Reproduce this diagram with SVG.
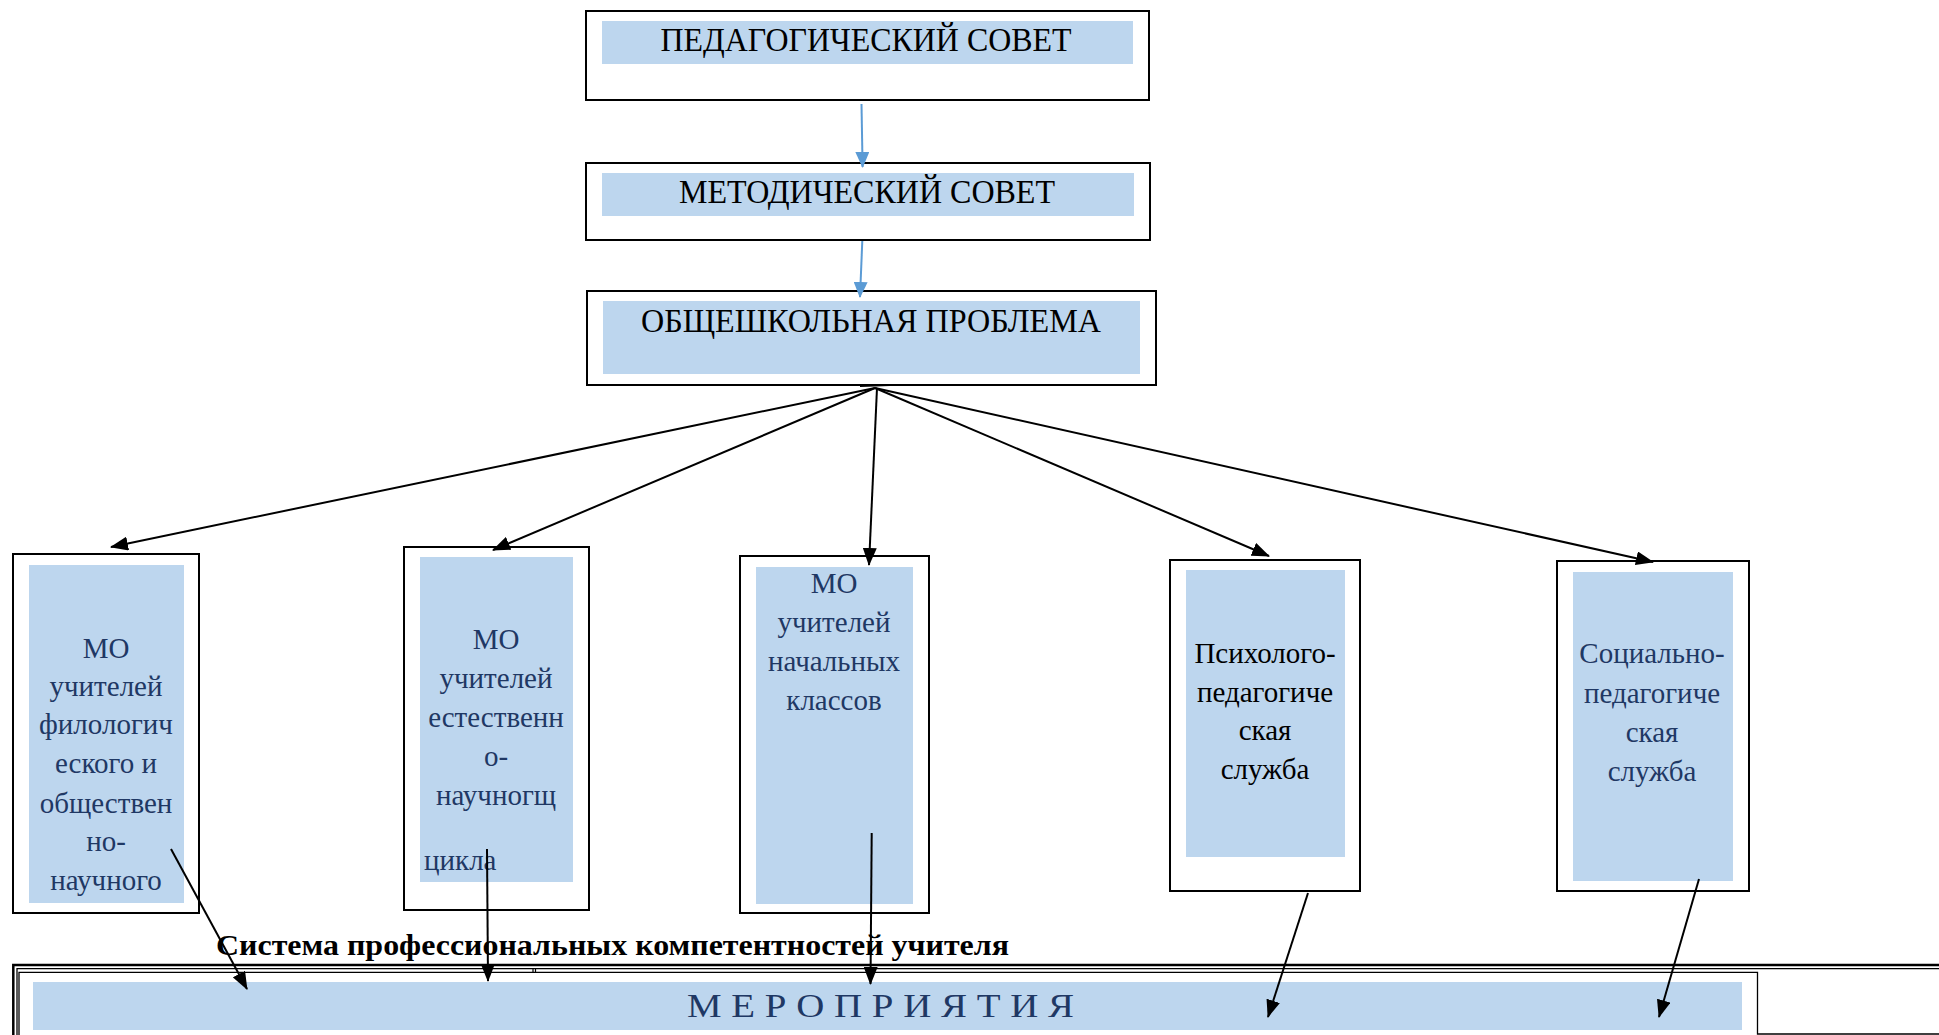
<svg xmlns="http://www.w3.org/2000/svg" width="1939" height="1035" viewBox="0 0 1939 1035">
<style>
.frame{fill:#fff;stroke:#000;stroke-width:2}
.band{fill:#bdd6ee}
.t{font-family:"Liberation Serif","Times New Roman",serif}
.title{font-size:33px;fill:#000;text-anchor:middle}
.mo{font-size:29px;fill:#1f3864;text-anchor:middle}
.blk{fill:#000}
.con{stroke:#000;stroke-width:2;fill:none}
.bcon{stroke:#5b9bd5;stroke-width:2;fill:none}
.ln{fill:none;stroke:#000}
</style>
<defs>
<marker id="ah" markerUnits="userSpaceOnUse" markerWidth="18" markerHeight="14" refX="17" refY="7" orient="auto"><path d="M0,0 L18,7 L0,14 z" fill="#000"/></marker>
<marker id="bh" markerUnits="userSpaceOnUse" markerWidth="16" markerHeight="14" refX="15" refY="7" orient="auto"><path d="M0,0 L16,7 L0,14 z" fill="#5b9bd5"/></marker>
</defs>

<g id="ped-sovet">
<rect class="frame" x="586" y="11" width="563" height="89"/>
<rect class="band" x="602" y="21" width="531" height="43"/>
<text class="t title" x="866" y="51" textLength="411" lengthAdjust="spacingAndGlyphs">ПЕДАГОГИЧЕСКИЙ СОВЕТ</text>
</g>

<g id="met-sovet">
<rect class="frame" x="586" y="163" width="564" height="77"/>
<rect class="band" x="602" y="173" width="532" height="43"/>
<text class="t title" x="867" y="203" textLength="376" lengthAdjust="spacingAndGlyphs">МЕТОДИЧЕСКИЙ СОВЕТ</text>
</g>

<g id="problem">
<rect class="frame" x="587" y="291" width="569" height="94"/>
<rect class="band" x="603" y="301" width="537" height="73"/>
<text class="t title" x="871" y="332" textLength="460" lengthAdjust="spacingAndGlyphs">ОБЩЕШКОЛЬНАЯ ПРОБЛЕМА</text>
</g>

<g id="mo-filolog">
<rect class="frame" x="13" y="554" width="186" height="359"/>
<rect class="band" x="29" y="565" width="155" height="338"/>
<text class="t mo" x="106" y="658">МО</text>
<text class="t mo" x="106" y="696">учителей</text>
<text class="t mo" x="106" y="734">филологич</text>
<text class="t mo" x="106" y="773">еского и</text>
<text class="t mo" x="106" y="813">обществен</text>
<text class="t mo" x="106" y="851">но-</text>
<text class="t mo" x="106" y="890">научного</text>
</g>

<g id="mo-estestv">
<rect class="frame" x="404" y="547" width="185" height="363"/>
<rect class="band" x="420" y="557" width="153" height="325"/>
<text class="t mo" x="496" y="649">МО</text>
<text class="t mo" x="496" y="688">учителей</text>
<text class="t mo" x="496" y="727">естественн</text>
<text class="t mo" x="496" y="766">о-</text>
<text class="t mo" x="496" y="805">научногщ</text>
<text class="t mo" x="424" y="870" style="text-anchor:start">цикла</text>
</g>

<g id="mo-nach">
<rect class="frame" x="740" y="556" width="189" height="357"/>
<rect class="band" x="756" y="567" width="157" height="337"/>
<text class="t mo" x="834" y="593">МО</text>
<text class="t mo" x="834" y="632">учителей</text>
<text class="t mo" x="834" y="671">начальных</text>
<text class="t mo" x="834" y="710">классов</text>
</g>

<g id="psych">
<rect class="frame" x="1170" y="560" width="190" height="331"/>
<rect class="band" x="1186" y="570" width="159" height="287"/>
<text class="t mo" x="1265" y="663" style="fill:#000">Психолого-</text>
<text class="t mo" x="1265" y="702" style="fill:#000">педагогиче</text>
<text class="t mo" x="1265" y="740" style="fill:#000">ская</text>
<text class="t mo" x="1265" y="779" style="fill:#000">служба</text>
</g>

<g id="social">
<rect class="frame" x="1557" y="561" width="192" height="330"/>
<rect class="band" x="1573" y="572" width="160" height="309"/>
<text class="t mo" x="1652" y="663">Социально-</text>
<text class="t mo" x="1652" y="703">педагогиче</text>
<text class="t mo" x="1652" y="742">ская</text>
<text class="t mo" x="1652" y="781">служба</text>
</g>

<g id="competences">
<text class="t blk" x="216" y="955" font-size="30" font-weight="bold" textLength="793" lengthAdjust="spacingAndGlyphs">Система профессиональных компетентностей учителя</text>
</g>

<g id="meropriyatiya">
<path class="ln" stroke-width="2.5" d="M13.3,1035 V965 H1939"/>
<path class="ln" stroke-width="1.3" d="M17,1035 V968.6 H1939"/>
<path class="ln" stroke-width="1.3" d="M19,1035 V972.3 H1757.5 V1034 H1939"/>
<path class="ln" stroke-width="1.2" d="M533,968.6 V972.3 M535.5,968.6 V972.3"/>
<rect class="band" x="33" y="982" width="1709" height="48"/>
<text class="t" x="687" y="1017" font-size="34" fill="#1f3864" textLength="387" lengthAdjust="spacingAndGlyphs">М Е Р О П Р И Я Т И Я</text>
</g>

<g id="connectors">
<line class="bcon" x1="861.5" y1="104" x2="862.6" y2="167" marker-end="url(#bh)"/>
<line class="bcon" x1="862.3" y1="241" x2="860" y2="297" marker-end="url(#bh)"/>
<line class="con" x1="875" y1="388" x2="111" y2="547" marker-end="url(#ah)"/>
<line class="con" x1="875" y1="388" x2="493" y2="550" marker-end="url(#ah)"/>
<line class="con" x1="877" y1="388" x2="869" y2="565" marker-end="url(#ah)"/>
<line class="con" x1="875" y1="388" x2="1269" y2="556" marker-end="url(#ah)"/>
<line class="con" x1="875" y1="388" x2="1653" y2="562" marker-end="url(#ah)"/>
<line class="con" x1="860" y1="386" x2="890" y2="385"/>
<line class="con" x1="171" y1="849" x2="247" y2="989" marker-end="url(#ah)"/>
<line class="con" x1="487" y1="849" x2="488" y2="981" marker-end="url(#ah)"/>
<line class="con" x1="871.7" y1="833" x2="870.5" y2="984" marker-end="url(#ah)"/>
<line class="con" x1="1308" y1="893" x2="1268" y2="1017" marker-end="url(#ah)"/>
<line class="con" x1="1699" y1="879" x2="1659" y2="1017" marker-end="url(#ah)"/>
</g>
</svg>
